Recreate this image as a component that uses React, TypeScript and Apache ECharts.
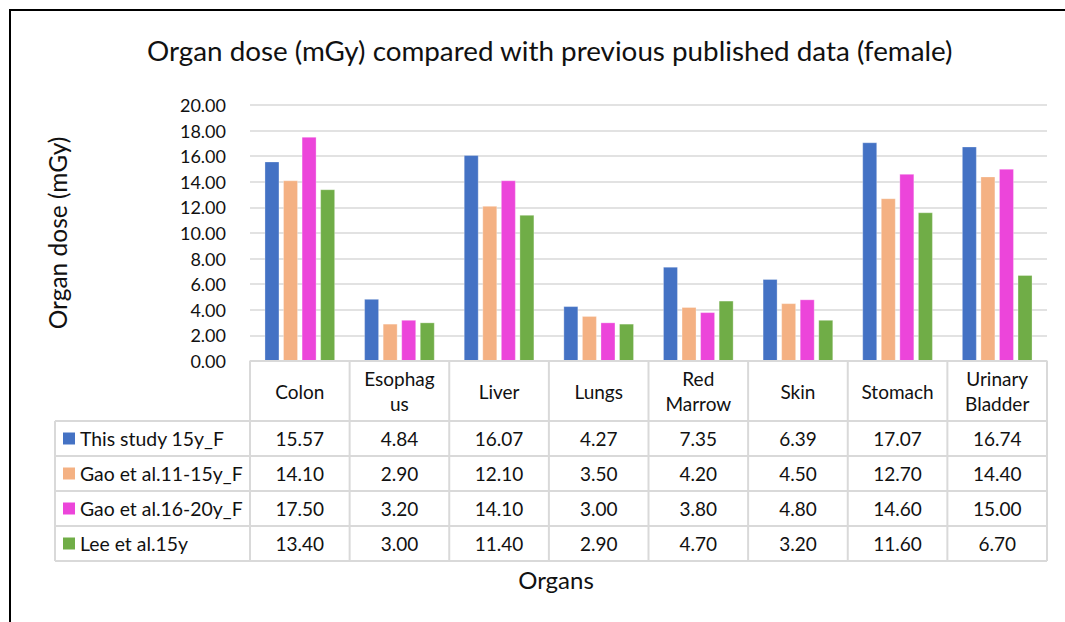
import React, { useEffect, useRef } from "react";
import * as echarts from "echarts";

const categories = ["Colon", "Esophag\nus", "Liver", "Lungs", "Red\nMarrow", "Skin", "Stomach", "Urinary\nBladder"];
const seriesNames = ["This study 15y_F", "Gao et al.11-15y_F", "Gao et al.16-20y_F", "Lee et al.15y"];
const thisStudy = [15.57, 4.84, 16.07, 4.27, 7.35, 6.39, 17.07, 16.74];
const gao1115 = [14.1, 2.9, 12.1, 3.5, 4.2, 4.5, 12.7, 14.4];
const gao1620 = [17.5, 3.2, 14.1, 3.0, 3.8, 4.8, 14.6, 15.0];
const lee15 = [13.4, 3.0, 11.4, 2.9, 4.7, 3.2, 11.6, 6.7];
const seriesValues = [thisStudy, gao1115, gao1620, lee15];
const colors = ["#4472C4", "#F4B183", "#EC45DA", "#70AD47"];
const yMin = 0;
const yMax = 20;
const yInterval = 2;

const FONT = "Lato";
const TEXT = "#111";
const LINE = "#D9D9D9";

export default function App() {
  const ref = useRef<HTMLDivElement>(null);
  useEffect(() => {
    if (!ref.current) return;
    const chart = echarts.init(ref.current, undefined, { renderer: "svg" });
    const gridLeft = 250;
    const gridRight = 18;
    const gridTop = 105;
    const gridBottomY = 361;
    const option: any = {
      animation: false,
      backgroundColor: "#fff",
      title: {
        text: "Organ dose (mGy) compared with previous published data (female)",
        left: 142,
        top: 31,
        textStyle: { fontFamily: FONT, fontSize: 27.8, fontWeight: "normal", color: TEXT },
      },
      grid: { left: gridLeft, right: gridRight, top: gridTop, bottom: 622 - gridBottomY },
      xAxis: {
        type: "category",
        data: categories,
        axisLine: { show: true, lineStyle: { color: LINE, width: 1.5 } },
        axisTick: { show: false },
        axisLabel: {
          interval: 0,
          margin: 30,
          verticalAlign: "middle",
          fontFamily: FONT,
          fontSize: 19,
          lineHeight: 25,
          color: TEXT,
        },
      },
      yAxis: {
        type: "value",
        min: yMin,
        max: yMax,
        interval: yInterval,
        name: "Organ dose (mGy)",
        nameLocation: "middle",
        nameGap: 180,
        nameTextStyle: { fontFamily: FONT, fontSize: 24.5, color: TEXT },
        axisLine: { show: false },
        axisTick: { show: false },
        axisLabel: {
          formatter: (v: number) => v.toFixed(2),
          fontFamily: FONT,
          fontSize: 18,
          color: TEXT,
          margin: 24,
        },
        splitLine: { lineStyle: { color: LINE, width: 1.5 } },
      },
      series: seriesValues.map((vals, i) => ({
        name: seriesNames[i],
        type: "bar",
        data: vals,
        barWidth: 14.5,
        barGap: "28%",
        itemStyle: { color: colors[i], borderColor: "rgba(255,255,255,0.6)", borderWidth: 0.5 },
      })),
    };
    chart.setOption(option);

    const n = categories.length;
    const centers = categories.map((_, i) => chart.convertToPixel({ xAxisIndex: 0 }, i) as number);
    const band = centers.length > 1 ? centers[1] - centers[0] : 100;
    const bounds = [centers[0] - band / 2, ...centers.map((c) => c + band / 2)];
    const tableLeft = 55;
    const headerTop = gridBottomY;
    const rowTop = 421;
    const rowH = 35;
    const right = bounds[n];
    const els: any[] = [];
    const line = (x1: number, y1: number, x2: number, y2: number) =>
      els.push({ type: "line", shape: { x1, y1, x2, y2 }, style: { stroke: LINE, lineWidth: 2 }, z: 10 });
    line(bounds[0], headerTop, right, headerTop);
    for (let r = 0; r <= seriesNames.length; r++) line(tableLeft, rowTop + r * rowH, right, rowTop + r * rowH);
    bounds.forEach((bx) => line(bx, headerTop, bx, rowTop + seriesNames.length * rowH));
    line(tableLeft, rowTop, tableLeft, rowTop + seriesNames.length * rowH);
    seriesNames.forEach((name, r) => {
      const cy = rowTop + r * rowH + rowH / 2;
      els.push({ type: "rect", shape: { x: 63, y: cy - 6, width: 12, height: 12 }, style: { fill: colors[r] }, z: 11 });
      els.push({
        type: "text",
        x: 80,
        y: cy,
        style: { text: name, fontFamily: FONT, fontSize: 19.4, fill: TEXT, align: "left", verticalAlign: "middle" },
        z: 11,
      });
      seriesValues[r].forEach((v, c) => {
        els.push({
          type: "text",
          x: centers[c],
          y: cy,
          style: { text: v.toFixed(2), fontFamily: FONT, fontSize: 19, fill: TEXT, align: "center", verticalAlign: "middle" },
          z: 11,
        });
      });
    });
    els.push({
      type: "text",
      x: 556,
      y: 579,
      style: { text: "Organs", fontFamily: FONT, fontSize: 24, fill: TEXT, align: "center", verticalAlign: "middle" },
      z: 11,
    });
    els.push({ type: "rect", shape: { x: 9, y: 9, width: 1100, height: 2 }, style: { fill: "#000" }, z: 12 });
    els.push({ type: "rect", shape: { x: 9, y: 9, width: 2, height: 700 }, style: { fill: "#000" }, z: 12 });
    chart.setOption({ graphic: { elements: els } });

    return () => chart.dispose();
  }, []);
  return (
    <div style={{ position: "fixed", left: 0, top: 0, width: 1065, height: 622, overflow: "hidden", background: "#fff" }}>
      <div ref={ref} style={{ width: 1065, height: 622 }} />
    </div>
  );
}
